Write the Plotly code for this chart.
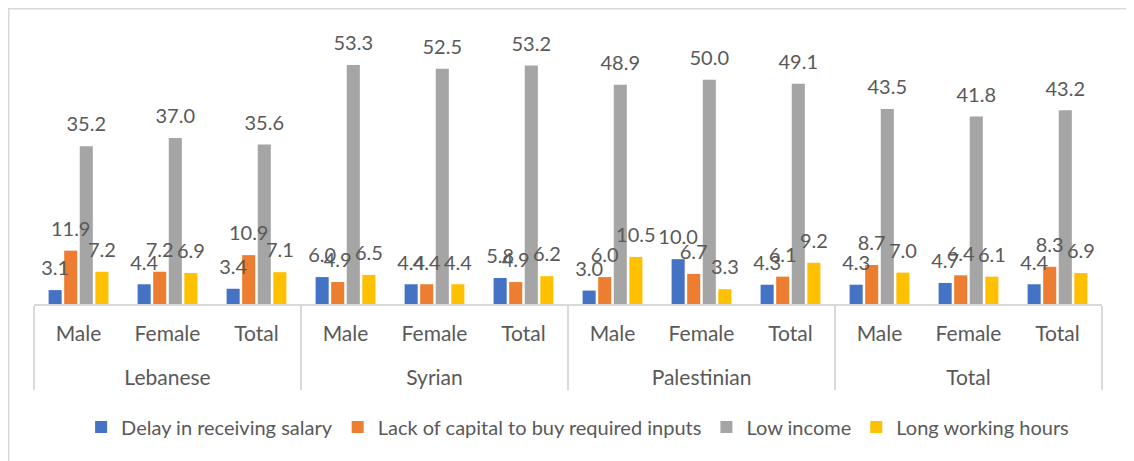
import plotly.graph_objects as go

groups = ["Lebanese", "Syrian", "Palestinian", "Total"]
subs = ["Male", "Female", "Total"]

series_names = [
    "Delay in receiving salary",
    "Lack of capital to buy required inputs",
    "Low income",
    "Long working hours",
]
delay = [3.1, 4.4, 3.4, 6.0, 4.4, 5.8, 3.0, 10.0, 4.3, 4.3, 4.7, 4.4]
lack_capital = [11.9, 7.2, 10.9, 4.9, 4.4, 4.9, 6.0, 6.7, 6.1, 8.7, 6.4, 8.3]
low_income = [35.2, 37.0, 35.6, 53.3, 52.5, 53.2, 48.9, 50.0, 49.1, 43.5, 41.8, 43.2]
long_hours = [7.2, 6.9, 7.1, 6.5, 4.4, 6.2, 10.5, 3.3, 9.2, 7.0, 6.1, 6.9]

colors = ["#4472C4", "#ED7D31", "#A5A5A5", "#FFC000"]
series_values = [delay, lack_capital, low_income, long_hours]

# leading line break pushes the group row further below the sub-category row
x_outer = ["<br>" + g for g in groups for _ in subs]
x_inner = [s for _ in groups for s in subs]

FONT = "Lato"
TXT = "#595959"
GAP = 0.30

fig = go.Figure()
for name, vals, col in zip(series_names, series_values, colors):
    fig.add_trace(go.Bar(
        x=[x_outer, x_inner], y=vals, name=name,
        marker=dict(color=col, line=dict(width=0)),
        offsetgroup=name,
    ))
for name, vals, col in zip(series_names, series_values, colors):
    fig.add_trace(go.Scatter(
        x=[x_outer, x_inner], y=vals, mode="markers+text",
        text=[f"{v:.1f}" for v in vals], textposition="top center",
        textfont=dict(family=FONT, size=20, color=TXT),
        marker=dict(size=14, opacity=0), showlegend=False,
        offsetgroup=name, hoverinfo="skip", cliponaxis=False,
    ))

# page body has an 8px margin, so the figure is sized to fit the window
W, H = 1126, 453
ML, MR, MT, MB = 26, 32, 27, 157
PW = W - ML - MR
PH = H - MT - MB

fig.update_layout(
    width=W, height=H,
    margin=dict(l=ML, r=MR, t=MT, b=MB, autoexpand=False),
    paper_bgcolor="white", plot_bgcolor="white",
    barmode="group", bargap=GAP, bargroupgap=0.16,
    scattermode="group", scattergap=GAP,
    font=dict(family=FONT, size=21, color=TXT),
    showlegend=True,
    legend=dict(orientation="h", x=0.509, xanchor="center", y=-(427 - 304) / PH, yanchor="middle",
                font=dict(family=FONT, size=20, color=TXT), traceorder="normal"),
    shapes=[dict(type="rect", xref="paper", yref="paper",
                 x0=-(ML - 0.75) / PW, x1=1.05, y0=-0.7, y1=(PH + MT - 0.75) / PH,
                 line=dict(color="#D9D9D9", width=1.5), fillcolor="rgba(0,0,0,0)", layer="below")],
)
fig.update_xaxes(
    type="multicategory", showline=True, linecolor="#D9D9D9", linewidth=1.5,
    showdividers=True, dividercolor="#D9D9D9", dividerwidth=1.5,
    ticks="", tickfont=dict(family=FONT, size=21, color=TXT),
    ticklabelstandoff=10, automargin=False,
)
fig.update_yaxes(range=[0, 60], visible=False, showgrid=False)

fig.write_html("out.html")
